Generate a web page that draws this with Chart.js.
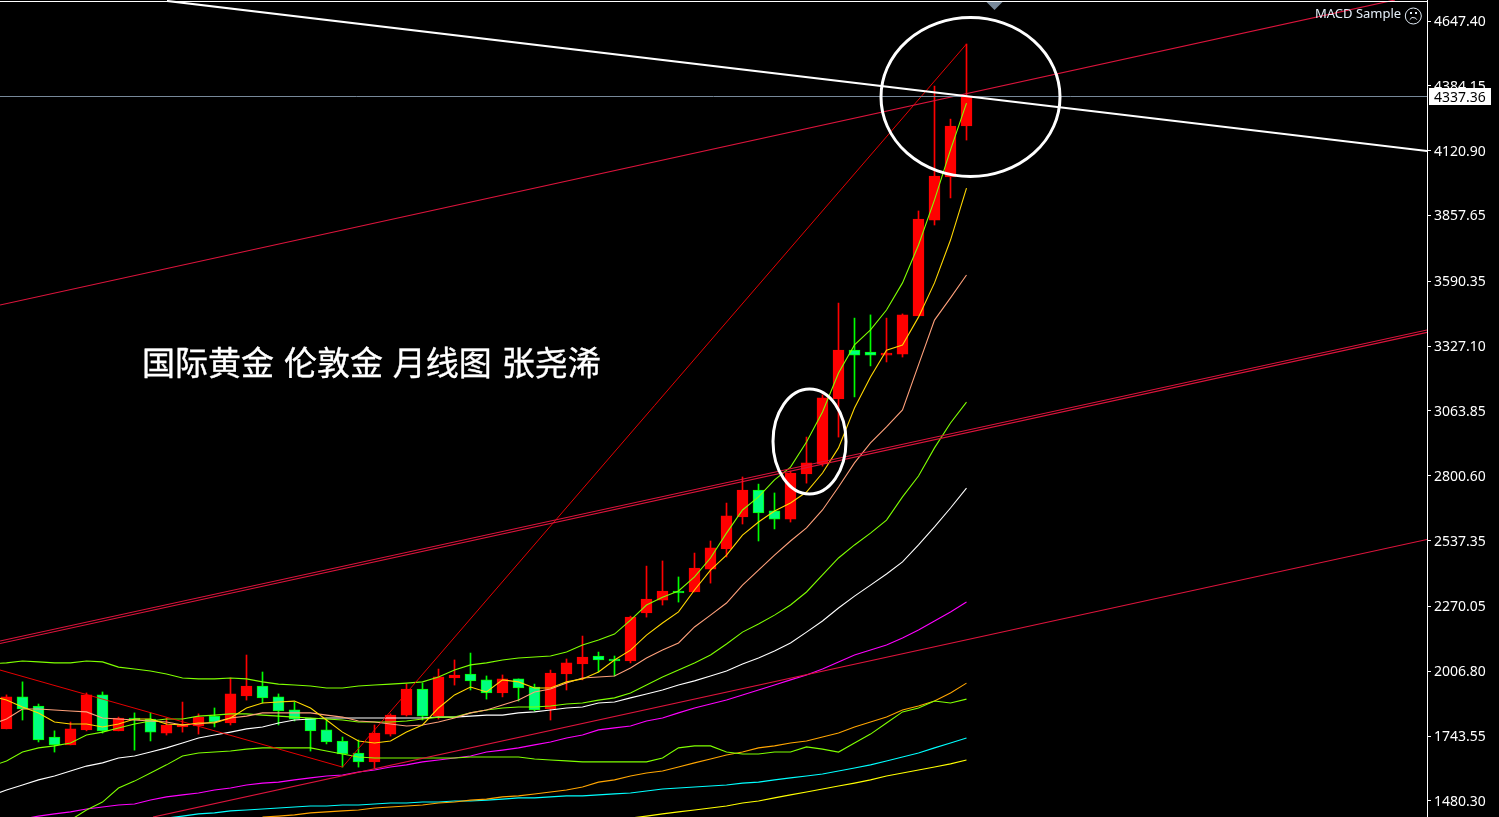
<!DOCTYPE html>
<html><head><meta charset="utf-8">
<style>html,body{margin:0;padding:0;background:#000}canvas{display:block}</style>
<script src="https://cdn.jsdelivr.net/npm/chart.js@4"></script>
</head><body><canvas id="c" width="1499" height="817"></canvas>
<script>
const tickValues=[4647.40,4384.15,4120.90,3857.65,3590.35,3327.10,3063.85,2800.60,2537.35,2270.05,2006.80,1743.55,1480.30];
const bidLabel='4337.36';
const bidLevel=4340.8;
const chartTitle='国际黄金 伦敦金 月线图 张尧浠';
const eaName='MACD Sample';

// candles: bodyTop, bodyBottom, high, low, colour flag (1 = rising/red, 0 = falling/green)
const bodyTop=[1903,1903,1866,1740,1773,1911,1911,1817,1817,1813,1789,1793,1821,1825,1915,1947,1947,1903,1850,1817,1769,1724,1675,1756,1829,1935,1935,1984,1992,1996,1972,1976,1976,1943,2000,2041,2065,2069,2057,2227,2300,2333,2333,2426,2508,2638,2743,2743,2658,2812,2853,3117,3311,3311,3303,3299,3454,3843,4018,4221,4339];
const bodyBottom=[1773,1854,1728,1708,1708,1769,1765,1765,1809,1760,1756,1781,1785,1801,1797,1907,1899,1846,1813,1765,1720,1671,1639,1639,1752,1829,1825,1825,1980,1968,1919,1919,1939,1850,1854,1996,2037,2053,2049,2049,2244,2296,2325,2329,2422,2504,2634,2650,2625,2625,2808,2849,3113,3291,3291,3291,3295,3450,3839,4014,4221];
const highs=[1911,1964,1874,1765,1801,1919,1923,1821,1838,1838,1817,1882,1834,1858,1980,2073,2004,1915,1882,1817,1813,1740,1728,1789,1834,1955,1959,2016,2053,2081,1988,1992,1976,1955,2012,2057,2150,2085,2069,2231,2434,2455,2390,2487,2536,2690,2796,2767,2731,2820,2958,3129,3502,3441,3454,3441,3458,3876,4383,4249,4554];
const lows=[1773,1809,1720,1679,1708,1765,1756,1765,1687,1724,1748,1760,1752,1781,1789,1890,1878,1789,1805,1683,1712,1618,1618,1614,1744,1825,1809,1813,1951,1931,1894,1903,1886,1846,1809,1931,1972,2004,1988,2041,2227,2276,2288,2329,2365,2471,2605,2536,2585,2613,2771,2840,2958,3121,3247,3263,3283,3450,3819,3929,4164];
const rising=[1,0,0,0,1,1,0,1,0,0,1,1,1,0,1,1,0,0,0,0,0,0,0,1,1,1,0,1,1,0,0,1,0,0,1,1,1,0,0,1,1,1,0,1,1,1,1,0,0,1,1,1,1,0,0,1,1,1,1,1,1];

// indicator series: first value is the month just left of the visible window (index -1)
const goldMA=[1907,1890,1862,1838,1801,1793,1793,1781,1793,1813,1813,1793,1789,1797,1797,1817,1858,1878,1882,1886,1858,1809,1760,1724,1716,1724,1760,1789,1858,1911,1943,1923,1972,1964,1939,1939,1964,1976,2004,2053,2093,2154,2203,2248,2337,2418,2479,2560,2613,2658,2690,2735,2812,2914,3076,3202,3311,3332,3445,3584,3758,3969];
const salmonMA=[1790,1813,1854,1854,1850,1846,1842,1817,1813,1809,1805,1801,1789,1793,1801,1817,1825,1838,1838,1838,1838,1829,1821,1805,1801,1793,1785,1789,1801,1817,1838,1850,1870,1890,1923,1935,1959,1980,1984,1988,2020,2061,2093,2122,2187,2235,2284,2357,2418,2479,2536,2589,2662,2755,2853,2934,2999,3068,3251,3433,3523,3616];
const upperBand=[2037,2041,2049,2045,2041,2041,2049,2045,2024,2016,2008,1996,1980,1976,1976,1980,1976,1964,1955,1951,1947,1939,1939,1947,1951,1955,1959,1964,1984,2012,2033,2041,2053,2061,2065,2069,2085,2114,2134,2158,2215,2276,2308,2333,2390,2467,2568,2662,2715,2784,2836,2938,3060,3218,3332,3393,3474,3584,3738,3921,4124,4314];
const midBand=[1620,1643,1679,1696,1704,1716,1748,1760,1777,1793,1805,1813,1813,1825,1829,1834,1834,1829,1825,1821,1817,1813,1809,1801,1801,1801,1805,1813,1821,1821,1838,1850,1858,1862,1862,1866,1874,1878,1890,1899,1919,1951,1984,2012,2041,2073,2118,2166,2199,2235,2276,2329,2398,2467,2520,2568,2621,2715,2800,2914,3015,3100];
const whiteMA=[1501,1525,1545,1566,1582,1602,1622,1635,1655,1663,1679,1696,1716,1736,1748,1760,1773,1781,1797,1809,1813,1817,1817,1817,1817,1817,1817,1817,1821,1821,1825,1829,1829,1838,1842,1850,1858,1862,1878,1882,1899,1915,1931,1951,1968,1988,2008,2037,2061,2089,2122,2166,2211,2264,2312,2357,2402,2451,2520,2593,2670,2751];
const magentaMA=[1383,1395,1407,1419,1428,1436,1448,1456,1464,1468,1484,1497,1505,1513,1525,1533,1545,1553,1557,1566,1574,1582,1586,1598,1606,1618,1627,1639,1647,1655,1663,1679,1687,1696,1708,1720,1736,1748,1769,1777,1785,1805,1817,1838,1858,1874,1890,1911,1931,1951,1972,1992,2016,2045,2073,2093,2114,2142,2175,2211,2248,2288];
const lowerBandStart=4;
const lowerBand=[1403,1444,1476,1533,1561,1594,1627,1663,1675,1679,1683,1691,1696,1696,1696,1696,1683,1671,1659,1655,1655,1655,1655,1655,1655,1659,1659,1659,1659,1651,1647,1643,1639,1639,1639,1639,1639,1655,1696,1704,1704,1679,1671,1671,1679,1679,1700,1691,1679,1716,1752,1797,1842,1858,1886,1878,1894];
const orangeStart=16;
const orangeMA=[1415,1419,1424,1432,1436,1440,1444,1452,1456,1460,1464,1472,1476,1484,1488,1497,1501,1509,1517,1525,1537,1557,1566,1582,1594,1602,1618,1635,1651,1667,1679,1696,1704,1716,1724,1740,1756,1781,1801,1821,1850,1866,1886,1919,1959];
const cyanStart=10;
const cyanMA=[1411,1419,1428,1432,1440,1444,1448,1452,1456,1460,1460,1464,1464,1468,1472,1472,1476,1476,1480,1480,1484,1488,1493,1493,1497,1501,1501,1505,1509,1513,1521,1529,1533,1537,1541,1545,1553,1557,1566,1574,1582,1590,1602,1614,1627,1643,1659,1675,1696,1716,1736];
const yellowStart=39;
const yellowMA=[1411,1419,1428,1436,1444,1452,1460,1472,1480,1493,1505,1517,1529,1541,1553,1566,1582,1594,1606,1618,1631,1647];

// drawn trend lines: month index and price at each end
const xLeft=-0.40625, xRight=88.78125;
const channelTopX=[xLeft,86.78];      const channelTopP=[3494,4733];
const channelMidAX=[xLeft,xRight];    const channelMidAP=[2130,3393];
const channelMidBX=[xLeft,xRight];    const channelMidBP=[2120,3383];
const channelLowX=[9.156,xRight];     const channelLowP=[1415,2542];
const zigzagX=[xLeft,21,60];          const zigzagP=[2012,1618,4554];
const whiteTrendX=[10.03,xRight];     const whiteTrendP=[4729,4120];

const series=(vals,start=0)=>vals.map((v,i)=>({x:i+start,y:v}));
const pairs=(xs,ps)=>xs.map((x,i)=>({x,y:ps[i]}));
const LW=1.1;
const line=(data,color,order,width=LW)=>({type:'line',data,borderColor:color,borderWidth:width,pointRadius:0,tension:0,order,fill:false,spanGaps:false});

const RED='#ff0000', SPRING='#00ff7f', LIME='#00ff00';

const overlay={id:'overlay',
 afterDatasetsDraw(chart){
  const c=chart.ctx; c.save();
  // top border
  c.fillStyle='#fff'; c.fillRect(0,1,1428,1);
  // circles
  c.strokeStyle='#fff'; c.lineWidth=3;
  c.beginPath(); c.ellipse(970.5,97,89.5,79.5,0,0,Math.PI*2); c.stroke();
  c.beginPath(); c.ellipse(809.5,441.5,36.5,52.5,0,0,Math.PI*2); c.stroke();
  // chart shift marker
  c.fillStyle='#778899'; c.beginPath(); c.moveTo(986.5,2); c.lineTo(1002.5,2); c.lineTo(994.5,10); c.closePath(); c.fill();
  // title
  c.fillStyle='#fff'; c.strokeStyle='#fff'; c.lineWidth=0.35; c.textBaseline='middle'; c.textAlign='left';
  c.font='33px "Noto Sans CJK SC"'; c.wordSpacing='2.5px';
  c.fillText(chartTitle,142,362); c.strokeText(chartTitle,142,362);
  c.wordSpacing='0px';
  // EA label
  c.fillStyle='#e4eef8'; c.font='13px "Noto Sans"'; c.fillText(eaName,1315,14.5);
  c.strokeStyle='#e4eef8'; c.lineWidth=1;
  c.beginPath(); c.arc(1413.3,16,8,0,Math.PI*2); c.stroke();
  c.beginPath(); c.arc(1413.3,21.5,4,Math.PI*1.15,Math.PI*1.85); c.stroke();
  c.fillStyle='#e4eef8'; c.fillRect(1410,12,2,2); c.fillRect(1415,12,2,2);
  c.restore();
 },
 afterDraw(chart){
  const c=chart.ctx; c.save();
  c.fillStyle='#fff'; c.fillRect(1429,88,62,17);
  c.fillStyle='#000'; c.font='14px "Noto Sans"'; c.textBaseline='middle'; c.textAlign='left';
  c.fillText(bidLabel,1434,98);
  c.restore();
 }};

new Chart(document.getElementById('c'),{
 type:'bar',
 plugins:[overlay],
 data:{datasets:[
  {type:'bar',data:rising.map((r,i)=>({x:i,y:[lows[i],highs[i]]})),backgroundColor:rising.map(r=>r?RED:LIME),borderWidth:0,barThickness:1,grouped:false,order:100},
  {type:'bar',data:rising.map((r,i)=>({x:i,y:[bodyBottom[i],bodyTop[i]]})),backgroundColor:rising.map(r=>r?RED:SPRING),borderColor:rising.map(r=>r?RED:LIME),borderWidth:1,borderSkipped:false,barThickness:11,grouped:false,order:99},
  line(series(magentaMA,-1),'#ff00ff',30),
  line(series(orangeMA,orangeStart),'#ffa500',31),
  line(series(cyanMA,cyanStart),'#00ffff',32),
  line(series(yellowMA,yellowStart),'#ffff00',33),
  line(series(lowerBand,lowerBandStart),'#7fff00',29),
  line(series(whiteMA,-1),'#ffffff',28),
  line(series(midBand,-1),'#7fff00',27),
  line(series(salmonMA,-1),'#ffa07a',26),
  line(series(upperBand,-1),'#7fff00',24),
  line(series(goldMA,-1),'#ffd700',25),
  line(pairs(zigzagX,zigzagP),'#ff0000',20,0.9),
  line(pairs(channelLowX,channelLowP),'#dc143c',19),
  line(pairs(channelMidAX,channelMidAP),'#dc143c',18),
  line(pairs(channelMidBX,channelMidBP),'#dc143c',17),
  line(pairs(channelTopX,channelTopP),'#dc143c',16),
  line(pairs([xLeft,xRight],[bidLevel,bidLevel]),'#778899',15,1),
  line(pairs(whiteTrendX,whiteTrendP),'#ffffff',14,2)
 ]},
 options:{
  responsive:false,animation:false,devicePixelRatio:1,
  layout:{padding:0,autoPadding:false},
  plugins:{legend:{display:false},tooltip:{enabled:false},title:{display:false}},
  scales:{
   x:{type:'linear',display:false,min:xLeft,max:xRight,offset:false,grid:{display:false}},
   y:{type:'linear',position:'right',min:1415.3,max:4732.67,
    afterFit(s){s.width=72;s.paddingTop=0;s.paddingBottom=0;},
    afterBuildTicks(s){s.ticks=tickValues.map(v=>({value:v}));},
    border:{color:'#fff',width:1},
    grid:{drawOnChartArea:false,color:'#fff',tickLength:4,tickWidth:1},
    ticks:{color:'#fff',padding:3,labelOffset:1,autoSkip:false,font:{family:'"Noto Sans"',size:14},callback:v=>v.toFixed(2)}
   }
  }
 }
});
</script></body></html>
